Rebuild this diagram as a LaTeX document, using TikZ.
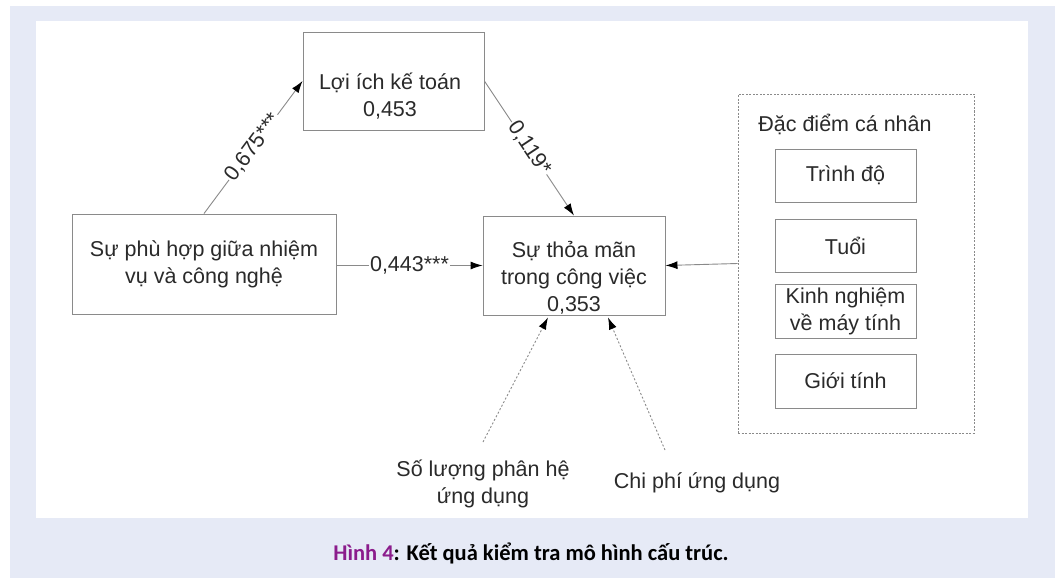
\documentclass[tikz,border=0pt]{standalone}
\usepackage{fontspec}
\setmainfont{Liberation Sans}
\newfontfamily\capfont{Carlito}
\usetikzlibrary{arrows.meta,calc}
\definecolor{bgc}{HTML}{E6EAF6}
\definecolor{linec}{HTML}{8A8A8A}
\definecolor{txtc}{HTML}{2A2A2A}
\definecolor{capc}{HTML}{8B1C8C}
\tikzset{
  box/.style={draw=linec, line width=0.9pt, rectangle, inner sep=0pt, align=center, text=txtc, font=\fontsize{21.5}{27}\selectfont},
  txt/.style={inner sep=0pt, align=center, text=txtc, font=\fontsize{21.5}{27}\selectfont},
  conn/.style={draw=linec, line width=0.9pt, -{Latex[length=12pt,width=8pt,color=black]}},
  dconn/.style={conn, dash pattern=on 2pt off 2pt},
  elab/.style={fill=white, inner sep=1pt, text=txtc, font=\fontsize{21.5}{24}\selectfont, sloped},
  smallbox/.style={box, minimum width=141pt, minimum height=53pt}
}
\begin{document}
\begin{tikzpicture}[x=1pt,y=-1pt]
\useasboundingbox (0,0) rectangle (1058,578);
\fill[white] (0,0) rectangle (1058,578);
\fill[bgc] (10,6) rectangle (1055,578);
\fill[white] (36,21) rectangle (1028,518);
% main boxes
\node[box, minimum width=181pt, minimum height=98pt] (loi) at (393.5,81) {};
\node[txt] (loit) at (390,96) {Lợi ích kế toán\\0,453};
\node[box, minimum width=264pt, minimum height=100pt] (phuhop) at (204,264) {Sự phù hợp giữa nhiệm\\vụ và công nghệ};
\node[box, minimum width=182pt, minimum height=99pt] (thoa) at (574,265.5) {};
\node[txt] (thoat) at (574,278) {Sự thỏa mãn\\trong công việc\\0,353};
% personal characteristics
\node[draw=linec, line width=0.7pt, dash pattern=on 2pt off 1.5pt, rectangle, inner sep=0pt, minimum width=236pt, minimum height=339pt] (ddiem) at (856,263.5) {};
\node[txt] (ddiemt) at (845,124) {Đặc điểm cá nhân};
\node[smallbox] (trinhdo) at (845.5,175.5) {Trình độ};
\node[smallbox] (tuoi) at (845.5,245.5) {Tuổi};
\node[smallbox, minimum height=54pt] (kinhng) at (845.5,311) {Kinh nghiệm\\về máy tính};
\node[smallbox, minimum height=54pt] (gioitinh) at (845.5,381) {Giới tính};
% bottom labels
\node[txt] (soluong) at (483,484) {Số lượng phân hệ\\ứng dụng};
\node[txt] (chiphi) at (697,483) {Chi phí ứng dụng};
\coordinate (sl) at (483,442);
\coordinate (cp) at (665,450);
% connectors
\draw[conn] (phuhop.north) -- node[elab] {0,675***} (loi.west);
\draw[conn] (loi.east) -- node[elab] {0,119*} (thoa.north);
\draw[conn] (phuhop.east |- thoa.west) -- node[elab, sloped=false] {0,443***} (thoa.west);
\draw[conn] (ddiem.west) -- (thoa.east);
\draw[dconn] (sl) -- ($(thoa.south)+(-26,2)$);
\draw[dconn] (cp) -- ($(thoa.south)+(34,2)$);
% caption
\node[inner sep=0pt, font=\capfont\bfseries\fontsize{22.5}{26}\selectfont] (cap) at (531,553) {\textcolor{capc}{Hình 4}: Kết quả kiểm tra mô hình cấu trúc.};
\end{tikzpicture}
\end{document}
